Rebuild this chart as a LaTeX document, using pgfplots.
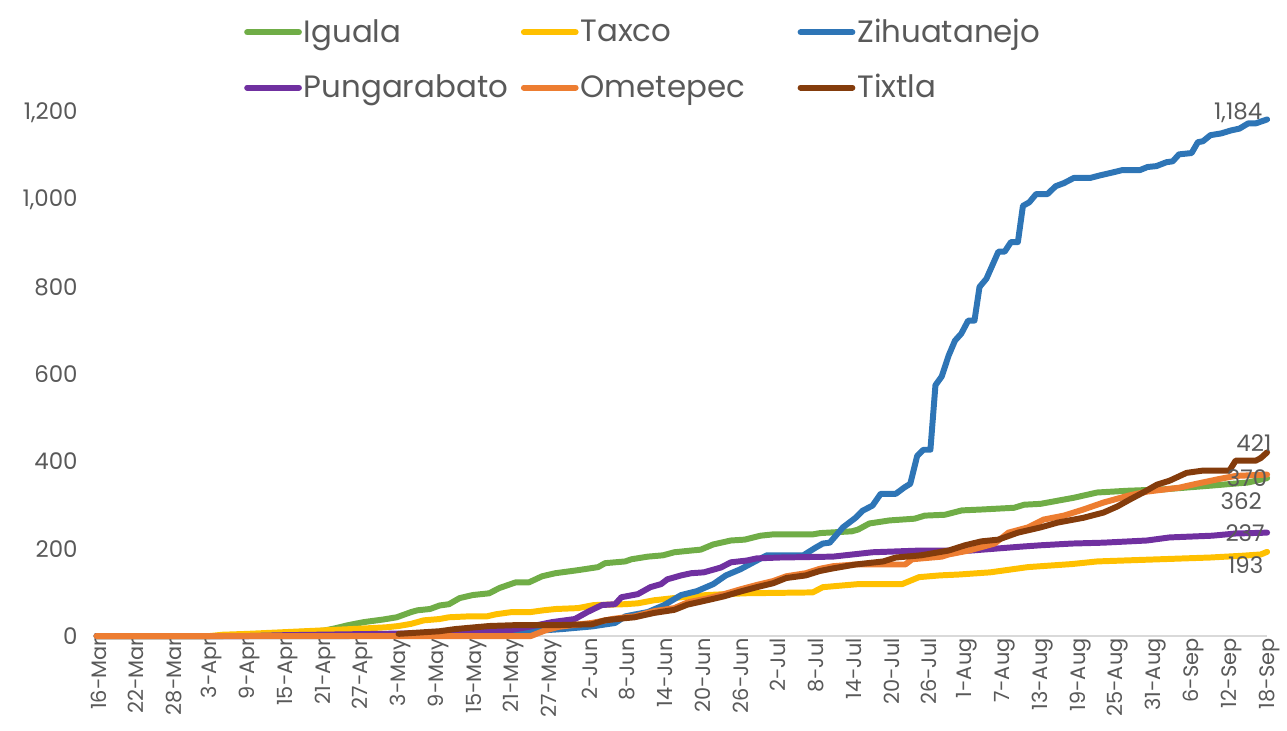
\documentclass[border=0pt]{standalone}
\usepackage{pgfplots}
\pgfplotsset{compat=1.18}
\usepackage{fontspec}
\setmainfont{Poppins}
\definecolor{cgreen}{HTML}{70AD47}
\definecolor{cyellow}{HTML}{FFC000}
\definecolor{cblue}{HTML}{2E75B6}
\definecolor{cpurple}{HTML}{7030A0}
\definecolor{corange}{HTML}{ED7D31}
\definecolor{cbrown}{HTML}{843C0C}
\definecolor{ctext}{HTML}{595959}
\definecolor{cgrid}{HTML}{D9D9D9}
\begin{document}
\begin{tikzpicture}
\useasboundingbox (-48.5pt,-47.5pt) rectangle (598pt,319.5pt);
\begin{axis}[
  at={(0,0)}, anchor=south west,
  scale only axis, width=588pt, height=263pt,
  xmin=0, xmax=186, ymin=0, ymax=1200,
  clip=false,
  axis line style={draw=none},
  tick style={draw=none},
  xtick={0,6,...,186},
  xticklabels={16-Mar,22-Mar,28-Mar,3-Apr,9-Apr,15-Apr,21-Apr,27-Apr,3-May,9-May,15-May,21-May,27-May,2-Jun,8-Jun,14-Jun,20-Jun,26-Jun,2-Jul,8-Jul,14-Jul,20-Jul,26-Jul,1-Aug,7-Aug,13-Aug,19-Aug,25-Aug,31-Aug,6-Sep,12-Sep,18-Sep},
  xticklabel style={rotate=90, anchor=east, font=\fontsize{10.5}{12}\selectfont, text=ctext, inner sep=1pt, yshift=-1pt},
  ytick={0,200,...,1200},
  yticklabel style={font=\fontsize{11.5}{13}\selectfont, text=ctext, anchor=east, xshift=-6pt},
  /pgf/number format/assume math mode=true,
  /pgf/number format/1000 sep={,},
  extra y ticks={0}, extra y tick labels={},
  extra y tick style={grid=major, major grid style={draw=cgrid, line width=1pt}},
  every axis plot/.append style={line width=3pt, line join=round, line cap=round},
  legend columns=3,
  legend style={at={(axis description cs:0.1258,1.183)}, anchor=north west, draw=none, fill=none,
    font=\fontsize{15.5}{18}\selectfont, text=ctext, inner sep=0pt, column sep=0pt, row sep=12.5pt,
    nodes={inner sep=1pt}},
  legend image code/.code={\draw[#1, line width=3pt, line cap=round] (0pt,0pt) -- (26pt,0pt);},
]
\addplot[cgreen] coordinates {(0,0)(20,0)(24,2)(30,5)(32,9)(36,12)(38,18)(40,25)(42.5,32)(45.6,38)(47.7,43)(50,55)(51,59)(53,62)(54.5,70)(56,73)(57.7,87)(59.8,94)(62.4,98)(64,110)(66.6,123)(68.7,123)(70.8,137)(72.9,144)(76.5,151)(79.7,158)(80.8,167)(84,171)(85,176)(87.6,182)(90,185)(91.8,192)(94.5,196)(96,198)(98,210)(100.8,219)(103,221)(105.5,230)(107.5,233)(113.8,233)(115,236)(120,240)(121,244)(122.8,258)(126,265)(130,269)(131.6,276)(134.8,278)(137.5,288)(140.6,290)(145.8,294)(147.4,301)(150,303)(155.3,317)(159,329)(163.8,333)(169.4,336)(177.3,345)(183,352)(186,362)};
\addlegendentry{\makebox[108pt][l]{Iguala}}
\addplot[cyellow] coordinates {(0,0)(18,0)(20,3)(24,5)(30,9)(36,13)(42,17)(46,20)(48,23)(50,28)(52,36)(54.5,39)(56,43)(59,45)(62,45)(63.5,50)(66,55)(69,55)(71,59)(73,62)(76.5,64)(79,71)(84,73)(86,75)(88.6,82)(93,89)(97,94)(103,98)(113.8,100)(115.4,112)(121,119)(128,119)(130.7,135)(134,139)(137,141)(142,146)(148,158)(155,165)(159,171)(169,176)(177,180)(182,184)(185,187)(186,193)};
\addlegendentry{\makebox[108pt][l]{Taxco}}
\addplot[cblue] coordinates {(0,0)(40,0)(50,3)(60,5)(66,8)(70,12)(74,16)(78.7,22)(82.4,30)(84,45)(85,48)(87.6,55)(90.2,71)(92.9,94)(95.4,103)(98,119)(100,139)(102.3,153)(104.9,173)(106.5,185)(112.3,185)(114.3,203)(115.4,212)(116.5,214)(118.6,249)(120.6,271)(121.7,287)(123.3,299)(124.6,326)(127,326)(128.3,340)(129.3,349)(130.4,413)(131.4,427)(132.5,427)(133.3,575)(134.3,595)(135.4,643)(136.4,677)(137.4,693)(138.5,723)(139.5,723)(140.3,800)(141.4,819)(143.3,881)(144.3,881)(145.3,903)(146.4,903)(147.2,986)(148.2,994)(149.3,1013)(151.1,1013)(152.4,1031)(153.7,1038)(155.3,1050)(157.9,1050)(159.5,1056)(161.6,1063)(163,1068)(165.8,1068)(167,1075)(168.4,1077)(170,1086)(171,1088)(172,1104)(174,1107)(175,1132)(175.8,1134)(177,1148)(178.7,1152)(180.3,1159)(181.6,1163)(183,1175)(184.2,1175)(186,1184)};
\addlegendentry{\makebox[108pt][l]{Zihuatanejo}}
\addplot[cpurple] coordinates {(0,0)(24,0)(30,2)(40,4)(50,6)(60,9)(66,14)(69,22)(72.4,32)(76,39)(78,55)(80.3,71)(82.4,73)(83.4,89)(86,96)(88,112)(89.7,119)(90.7,130)(92.9,139)(94.5,144)(96.5,146)(99.2,157)(100.8,169)(103.3,173)(104.9,178)(108.6,180)(117,182)(123.3,192)(131,196)(139,196)(147,205)(150,208)(155,212)(160,214)(166.9,219)(170.5,226)(177.3,230)(181,235)(186,237)};
\addlegendentry{\makebox[108pt][l]{Pungarabato}}
\addplot[corange] coordinates {(0,0)(69,0)(71.3,13)(73.4,21)(75.6,25)(78.7,30)(81.9,39)(84,43)(85.5,45)(88.6,57)(91.8,64)(93.9,77)(97,86)(99.7,96)(102.3,107)(104.9,117)(107.5,126)(109.6,137)(112.7,144)(114.9,154)(117,160)(120.6,164)(128.5,164)(129.6,176)(134.3,182)(135.4,187)(138.6,196)(142.7,212)(144.9,237)(148,249)(150.5,267)(153.7,276)(156.8,290)(160,306)(164,322)(166.9,331)(172,340)(174.8,349)(178.4,360)(181,367)(186,370)};
\addlegendentry{\makebox[108pt][l]{Ometepec}}
\addplot[cbrown] coordinates {(48,5)(54.5,11)(57,16)(62.4,23)(66.6,25)(73,25)(78.7,27)(80.8,36)(84,41)(85.5,43)(88.6,53)(91.8,60)(93.9,72)(97,82)(99.7,91)(102.3,102)(104.9,112)(107.5,121)(109.6,133)(112.7,139)(114.9,149)(117,155)(120.6,164)(125,171)(127,180)(131,185)(135.4,196)(138,208)(140.6,217)(143.3,221)(146.4,237)(150,249)(152.7,260)(156.8,271)(160,283)(162.2,297)(164.2,313)(166.3,329)(168.5,347)(170.5,356)(173.2,374)(175.7,379)(180,379)(181,402)(184.2,402)(185,408)(186,421)};
\addlegendentry{\makebox[108pt][l]{Tixtla}}
\node[text=ctext, font=\fontsize{11.5}{13}\selectfont] at (axis cs:181.4,1200) {1,184};
\node[text=ctext, font=\fontsize{11.5}{13}\selectfont] at (axis cs:183.9,443) {421};
\node[text=ctext, font=\fontsize{11.5}{13}\selectfont] at (axis cs:182.8,363) {370};
\node[text=ctext, font=\fontsize{11.5}{13}\selectfont] at (axis cs:181.9,310) {362};
\node[text=ctext, font=\fontsize{11.5}{13}\selectfont] at (axis cs:182.5,237) {237};
\node[text=ctext, font=\fontsize{11.5}{13}\selectfont] at (axis cs:182.6,162) {193};
\end{axis}
\end{tikzpicture}
\end{document}
